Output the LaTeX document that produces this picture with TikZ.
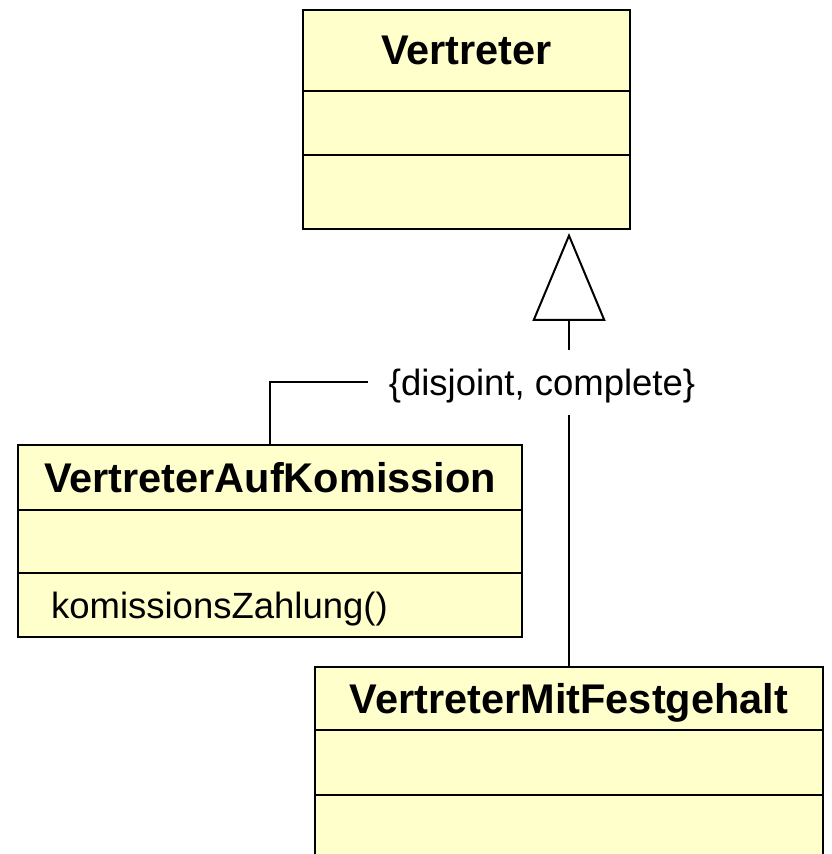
\documentclass[tikz,border=0pt]{standalone}
\usepackage{fontspec}
\setmainfont{Liberation Sans}
\usetikzlibrary{positioning,arrows.meta}
\definecolor{umlgelb}{RGB}{255,255,204}
\tikzset{
  fach/.style={draw,fill=umlgelb,line width=1.3pt,inner sep=0pt,outer sep=0pt,anchor=north west},
  kopf/.style={fach,font=\fontsize{20.75}{24}\selectfont\bfseries,text depth=0pt},
  schrift/.style={font=\fontsize{18.25}{22}\selectfont,text depth=0pt},
  linie/.style={line width=1pt},
}
\begin{document}
\begin{tikzpicture}[x=0.5pt,y=-0.5pt]
\useasboundingbox (0,0) rectangle (831,854);
\clip (0,0) rectangle (831,854);
%Vertreter
\node[kopf,minimum width=163.5pt,minimum height=40.5pt] (v) at (303,10) {Vertreter};
\node[fach,minimum width=163.5pt,minimum height=32pt] (va) at (v.south west) {};
\node[fach,minimum width=163.5pt,minimum height=37pt] (vo) at (va.south west) {};
%VertreterAufKomission
\node[kopf,minimum width=252pt,minimum height=32.5pt] (vk) at (18,445) {VertreterAufKomission};
\node[fach,minimum width=252pt,minimum height=31.5pt] (vka) at (vk.south west) {};
\node[fach,minimum width=252pt,minimum height=32pt] (vko) at (vka.south west) {};
\node[schrift,anchor=west] (kz) at ([xshift=13pt]vko.west) {komissionsZahlung()};
%VertreterMitFestgehalt
\node[kopf,minimum width=254pt,minimum height=31.5pt] (vm) at (315,667) {VertreterMitFestgehalt};
\node[fach,minimum width=254pt,minimum height=32.5pt] (vma) at (vm.south west) {};
\node[fach,minimum width=254pt,minimum height=55pt] (vmo) at (vma.south west) {};
%generalisation
\node[schrift,inner xsep=10pt,inner ysep=0pt,minimum height=32.5pt] (gs) at (542,382.5) {\{disjoint, complete\}};
\draw[linie,-{Triangle[open,width=36.5pt,length=44pt]},shorten >=2pt] (gs.north -| vm.north) -- (vo.south -| vm.north);
\draw[linie] (gs.south -| vm.north) -- (vm.north);
\draw[linie] (gs.west) -| (vk.north);
\end{tikzpicture}
\end{document}
